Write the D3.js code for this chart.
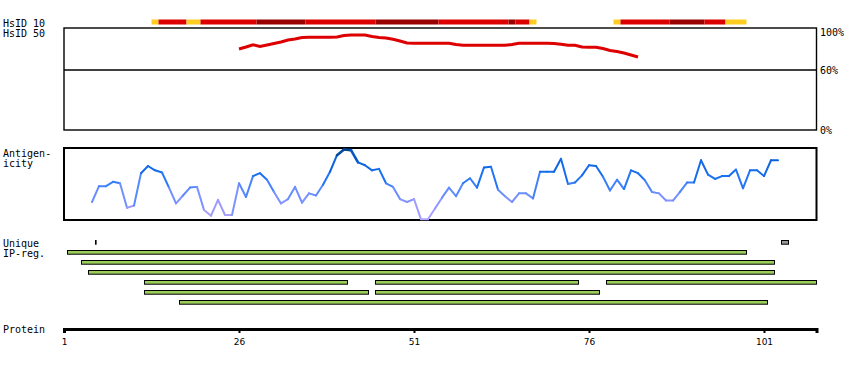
<!DOCTYPE html>
<html><head><meta charset="utf-8">
<script src="https://cdn.jsdelivr.net/npm/d3@7"></script>
<style>
html,body{margin:0;padding:0;background:#fff;}
svg{display:block;}
text{font-family:"DejaVu Sans Mono",monospace;font-size:10px;fill:#000;}
</style></head><body>
<svg id="chart" width="850" height="370"></svg>
<script>
// ---------- data ----------
const proteinStart = 1;
const proteinEnd = 108.5;
const axisTicks = [1, 26, 51, 76, 101];

// HsID 10 coverage band (residue boundaries) and identity level
const hsid10Start = [13.5, 14.5, 18.5, 20.5, 28.5, 35.5, 45.5, 54.5, 64.5, 65.5, 67.5, 79.5, 80.5, 87.5, 92.5, 95.5];
const hsid10End   = [14.5, 18.5, 20.5, 28.5, 35.5, 45.5, 54.5, 64.5, 65.5, 67.5, 68.5, 80.5, 87.5, 92.5, 95.5, 98.5];
const hsid10Level = ["low", "mid", "low", "mid", "high", "mid", "high", "mid", "high", "mid", "low", "low", "mid", "high", "mid", "low"];

// HsID 50 identity (%) per residue, starting at residue 26
const hsid50First = 26;
const hsid50Values = [81, 83, 85.3, 83.5, 85, 86.5, 88, 90, 91, 92.5,
  92.7, 92.7, 92.7, 92.7, 93, 94.5, 95, 95, 95, 93.5,
  92.5, 92, 90.7, 89, 87, 86.7, 86.7, 86.7, 86.7, 86.7,
  86.7, 85.5, 84.7, 84.7, 84.7, 84.7, 84.7, 84.7, 84.7, 85.5,
  86.7, 86.7, 86.7, 86.7, 86.7, 86.5, 85.7, 84.7, 84.7, 83,
  82.7, 82.7, 81.5, 79.5, 78.5, 77, 75, 73];
const identityTicks = [100, 60, 0];
const identityLabels = ["100%", "60%", "0%"];

// Antigenicity score (0..1) per residue, starting at residue 5
const antigenFirst = 5;
const antigenValues = [0.25, 0.47, 0.47, 0.53, 0.51, 0.17, 0.20, 0.65, 0.75, 0.69,
  0.66, 0.45, 0.23, 0.34, 0.45, 0.46, 0.14, 0.06, 0.28, 0.07,
  0.07, 0.51, 0.32, 0.61, 0.65, 0.56, 0.39, 0.23, 0.29, 0.46,
  0.24, 0.37, 0.34, 0.49, 0.67, 0.90, 0.98, 0.97, 0.80, 0.76,
  0.69, 0.71, 0.51, 0.46, 0.29, 0.25, 0.29, 0.01, 0.01, 0.16,
  0.31, 0.45, 0.33, 0.51, 0.58, 0.45, 0.73, 0.74, 0.42, 0.33,
  0.25, 0.37, 0.37, 0.30, 0.67, 0.67, 0.67, 0.85, 0.50, 0.52,
  0.62, 0.76, 0.75, 0.60, 0.41, 0.56, 0.43, 0.69, 0.65, 0.55,
  0.39, 0.37, 0.27, 0.27, 0.39, 0.52, 0.52, 0.83, 0.63, 0.57,
  0.61, 0.61, 0.70, 0.44, 0.69, 0.69, 0.61, 0.83, 0.83];

// Unique regions
const uniqueStart = [5.5, 103.5];
const uniqueEnd   = [5.5, 104.5];

// IP-reg regions
const ipStart = [1.5, 3.5, 4.5, 12.5, 45.5, 78.5, 12.5, 45.5, 17.5];
const ipEnd   = [98.5, 102.5, 102.5, 41.5, 74.5, 108.5, 44.5, 77.5, 101.5];
const ipRow   = [0, 1, 2, 3, 3, 3, 4, 4, 5];

// ---------- drawing ----------
const svg = d3.select("#chart");
const x = d3.scaleLinear().domain([proteinStart, proteinEnd]).range([64, 816.5]);
const levelColor = d3.scaleOrdinal().domain(["low", "mid", "high"]).range(["#ffcc22", "#dd0000", "#990000"]);

// left labels
const leftLabels = [
  ["HsID 10", 26.5], ["HsID 50", 36.5],
  ["Antigen-", 156.5], ["icity", 166.5],
  ["Unique", 246.5], ["IP-reg.", 256.5],
  ["Protein", 332.5]
];
svg.append("g").selectAll("text").data(leftLabels).join("text")
  .attr("x", 3).attr("y", d => d[1]).text(d => d[0]);

// HsID 10 band
svg.append("g").selectAll("rect").data(hsid10Start.map((s, i) => ({s, e: hsid10End[i], l: hsid10Level[i]})))
  .join("rect")
  .attr("x", d => x(d.s)).attr("width", d => x(d.e) - x(d.s))
  .attr("y", 19.5).attr("height", 5)
  .attr("fill", d => levelColor(d.l));

// HsID 50 panel
const yHs = d3.scaleLinear().domain([0, 100]).range([130, 30]);
const hsG = svg.append("g");
hsG.append("rect")
  .attr("x", x(proteinStart)).attr("y", yHs(100) - 2)
  .attr("width", x(proteinEnd) - x(proteinStart)).attr("height", yHs(0) - yHs(100) + 2)
  .attr("fill", "none").attr("stroke", "#000").attr("stroke-width", 1.4);
hsG.append("line")
  .attr("x1", x(proteinStart)).attr("x2", x(proteinEnd))
  .attr("y1", yHs(60)).attr("y2", yHs(60))
  .attr("stroke", "#000").attr("stroke-width", 1.4);
hsG.selectAll("text.id").data(identityTicks).join("text").attr("class", "id")
  .attr("x", x(proteinEnd) + 3.5)
  .attr("y", (d, i) => Math.max(yHs(d) + 0.5, yHs(100) + 2.7))
  .attr("dy", "0.35em")
  .text((d, i) => identityLabels[i]);
const hsLine = d3.line().x((d, i) => x(hsid50First + i)).y(d => yHs(d));
hsG.append("path").datum(hsid50Values)
  .attr("d", hsLine).attr("fill", "none")
  .attr("stroke", "#dd0000").attr("stroke-width", 3);

// Antigenicity panel
const yAg = d3.scaleLinear().domain([0, 1]).range([220, 148]);
const agColor = d3.scaleLinear().domain([0, 0.2, 0.4, 0.6, 0.85, 1])
  .range(["#b4a6ff", "#9a98ff", "#5f8cff", "#1a72f5", "#0a5fd6", "#003d80"]);
const agG = svg.append("g");
agG.append("rect")
  .attr("x", x(proteinStart)).attr("y", yAg(1))
  .attr("width", x(proteinEnd) - x(proteinStart)).attr("height", yAg(0) - yAg(1))
  .attr("fill", "none").attr("stroke", "#000").attr("stroke-width", 2);
const agPts = antigenValues.map((v, i) => ({p: antigenFirst + i, v}));
const segs = d3.pairs(agPts);
agG.selectAll("line.seg").data(segs).join("line").attr("class", "seg")
  .attr("x1", d => x(d[0].p)).attr("y1", d => yAg(d[0].v))
  .attr("x2", d => x(d[1].p)).attr("y2", d => yAg(d[1].v))
  .attr("stroke", d => agColor((d[0].v + d[1].v) / 2))
  .attr("stroke-width", d => ((d[0].v + d[1].v) / 2 > 0.85 ? 2.6 : 2))
  .attr("stroke-linecap", "round");

// Unique regions
svg.append("g").selectAll("rect").data(uniqueStart.map((s, i) => ({s, e: uniqueEnd[i]})))
  .join("rect")
  .attr("x", d => x(d.s)).attr("width", d => Math.max(x(d.e) - x(d.s), 0.6))
  .attr("y", 240.5).attr("height", 3.7)
  .attr("fill", "#999999").attr("stroke", "#000").attr("stroke-width", 1);

// IP-reg regions
svg.append("g").selectAll("rect").data(ipStart.map((s, i) => ({s, e: ipEnd[i], r: ipRow[i]})))
  .join("rect")
  .attr("x", d => x(d.s)).attr("width", d => x(d.e) - x(d.s))
  .attr("y", d => 250.5 + d.r * 10).attr("height", 3.7)
  .attr("fill", "#9acd5a").attr("stroke", "#000").attr("stroke-width", 1);

// Protein axis
const axisG = svg.append("g").attr("transform", "translate(0,329)")
  .call(d3.axisBottom(x).tickValues(axisTicks).tickSize(4).tickSizeOuter(4).tickFormat(d3.format("d")));
axisG.select(".domain").attr("stroke", "#000").attr("stroke-width", 3);
axisG.selectAll(".tick line").attr("stroke", "#000").attr("stroke-width", 2);
axisG.selectAll(".tick text")
  .attr("y", 16).attr("dy", null)
  .style("font-family", "'DejaVu Sans', sans-serif").style("font-size", "9px");
</script>
</body></html>
